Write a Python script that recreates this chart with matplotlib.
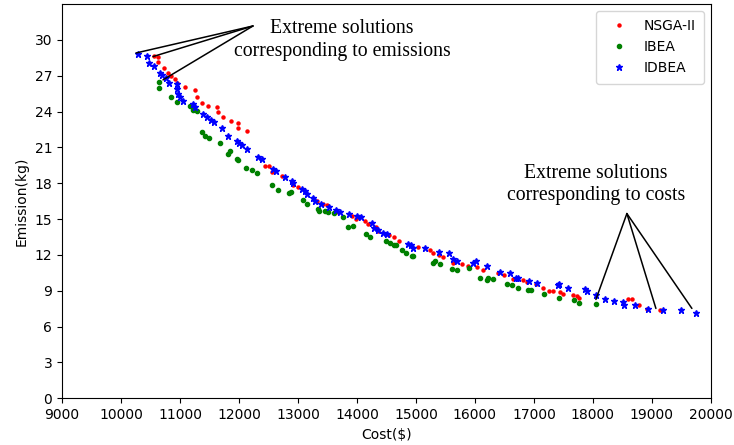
import matplotlib
matplotlib.use("Agg")
import matplotlib.pyplot as plt

# NSGA-II (red)
nsga_cost = [10565, 10633, 10633, 10735, 10791, 10848, 10915, 10944, 11085, 11254,
             11283, 11367, 11480, 11622, 11639, 11735, 11865, 11978, 11989, 12130,
             12440, 12514, 12553, 12723, 12921, 13005, 13316, 13418, 13497, 13644,
             13909, 13983, 14135, 14192, 14322, 14361, 14548, 14627, 14717, 15039,
             15237, 15282, 15395, 15463, 15632, 15774, 15887, 16039, 16130, 16395,
             16491, 16638, 16808, 16876, 17034, 17147, 17260, 17316, 17441, 17497,
             17655, 17723, 17768, 18599, 18655, 18785, 18910, 19136]
nsga_emis = [28.66, 28.57, 28.18, 27.68, 27.26, 26.99, 26.71, 26.35, 26.07, 25.79,
             25.18, 24.68, 24.48, 24.34, 23.92, 23.56, 23.17, 23.00, 22.61, 22.33,
             19.46, 19.46, 18.90, 18.63, 17.85, 17.65, 16.54, 16.26, 16.20, 15.56,
             15.28, 15.00, 14.87, 14.59, 14.36, 14.03, 13.70, 13.48, 13.15, 12.70,
             12.42, 12.14, 12.03, 11.81, 11.31, 11.20, 11.11, 10.98, 10.75, 10.47,
             10.28, 10.00, 9.86, 9.72, 9.53, 9.25, 8.97, 8.97, 8.89, 8.75,
             8.66, 8.52, 8.41, 8.33, 8.27, 7.77, 7.49, 7.35]

# IBEA (green)
ibea_cost = [10644, 10644, 10848, 10944, 11169, 11226, 11283, 11367, 11424, 11492,
             11678, 11848, 11808, 11961, 11989, 12113, 12226, 12300, 12553, 12666,
             12853, 12875, 13079, 13158, 13344, 13361, 13457, 13514, 13610, 13768,
             13853, 13938, 14152, 14220, 14491, 14559, 14627, 14661, 14757, 14830,
             14926, 14955, 15294, 15322, 15406, 15604, 15689, 15904, 16085, 16198,
             16226, 16299, 16537, 16621, 16723, 16904, 16943, 17169, 17429, 17678,
             17768, 18051]
ibea_emis = [26.51, 26.01, 25.18, 24.76, 24.48, 24.12, 24.06, 22.25, 21.97, 21.75,
             21.33, 20.72, 20.44, 20.02, 19.94, 19.27, 19.10, 18.85, 17.87, 17.46,
             17.15, 17.23, 16.62, 16.26, 15.84, 15.70, 15.65, 15.56, 15.48, 15.20,
             14.37, 14.45, 13.75, 13.47, 13.20, 12.98, 12.87, 12.79, 12.37, 12.15,
             11.95, 11.89, 11.31, 11.48, 11.20, 10.84, 10.70, 10.92, 10.08, 9.92,
             10.06, 9.95, 9.53, 9.44, 9.25, 9.08, 9.03, 8.69, 8.41, 8.19,
             7.97, 7.85]

# IDBEA (blue)
idbea_cost = [10283, 10435, 10475, 10565, 10661, 10701, 10757, 10814, 10944, 10955,
              10961, 11000, 11057, 11226, 11254, 11396, 11452, 11525, 11582, 11706,
              11819, 11961, 12000, 12057, 12130, 12317, 12384, 12570, 12627, 12779,
              12892, 12921, 13062, 13118, 13158, 13260, 13288, 13384, 13531, 13644,
              13712, 13870, 13994, 14068, 14248, 14288, 14361, 14446, 14514, 14870,
              14909, 14943, 15152, 15395, 15565, 15621, 15689, 15972, 16017, 16198,
              16424, 16593, 16695, 16734, 16921, 17045, 17412, 17429, 17582, 17864,
              17904, 18051, 18203, 18356, 18503, 18525, 18712, 18938, 19192, 19486,
              19746]
idbea_emis = [28.80, 28.66, 28.04, 27.82, 27.26, 27.04, 26.79, 26.43, 26.29, 25.87,
              25.45, 25.18, 24.90, 24.62, 24.34, 23.78, 23.56, 23.28, 23.09, 22.61,
              21.97, 21.56, 21.33, 21.22, 20.86, 20.22, 20.02, 19.18, 19.04, 18.54,
              18.15, 17.99, 17.51, 17.32, 17.09, 16.76, 16.54, 16.26, 15.98, 15.76,
              15.56, 15.42, 15.28, 15.14, 14.67, 14.25, 14.09, 13.81, 13.75, 12.93,
              12.79, 12.59, 12.56, 12.23, 12.14, 11.67, 11.53, 11.31, 11.48, 11.03,
              10.56, 10.47, 10.08, 10.08, 9.81, 9.64, 9.44, 9.58, 9.25, 9.16,
              9.02, 8.61, 8.33, 8.13, 8.05, 7.83, 7.83, 7.49, 7.35, 7.35,
              7.13]

# annotation lines: text anchor -> pointed solutions
emis_anchor = (12237, 31.16)
emis_targets = [(10254, 28.9), (10542, 28.6), (10712, 26.65)]
cost_anchor = (18576, 15.46)
cost_targets = [(18051, 8.27), (19068, 7.52), (19678, 7.52)]

f = plt.figure(figsize=(7.34, 4.45), dpi=100)
ax = f.add_axes([0.0845, 0.105, 0.884, 0.886])

ax.plot(nsga_cost, nsga_emis, 'o', color='r', markersize=2.2, linestyle='none', label='NSGA-II')
ax.plot(ibea_cost, ibea_emis, 'o', color='g', markersize=3, linestyle='none', label='IBEA')
ax.plot(idbea_cost, idbea_emis, '*', color='b', markersize=5, linestyle='none', label='IDBEA')

for t in emis_targets:
    ax.annotate('', xy=t, xytext=emis_anchor,
                arrowprops=dict(arrowstyle='-', color='k', lw=1.1, shrinkA=0, shrinkB=0))
for t in cost_targets:
    ax.annotate('', xy=t, xytext=cost_anchor,
                arrowprops=dict(arrowstyle='-', color='k', lw=1.1, shrinkA=0, shrinkB=0))

ax.text(13746, 30.0, "Extreme solutions\ncorresponding to emissions", ha='center', va='center',
        family='Liberation Serif', fontsize=14.2, linespacing=1.25)
ax.text(18051, 17.9, "Extreme solutions\ncorresponding to costs", ha='center', va='center',
        family='Liberation Serif', fontsize=14.2, linespacing=1.25)

ax.set_xlim(9000, 20000)
ax.set_ylim(0, 33)
ax.set_xticks(range(9000, 20001, 1000))
ax.set_yticks(range(0, 31, 3))
ax.set_xlabel("Cost($)")
ax.set_ylabel("Emission(kg)")
ax.legend(loc='upper right', fontsize=10, borderpad=0.6)

f.savefig("out.png")
